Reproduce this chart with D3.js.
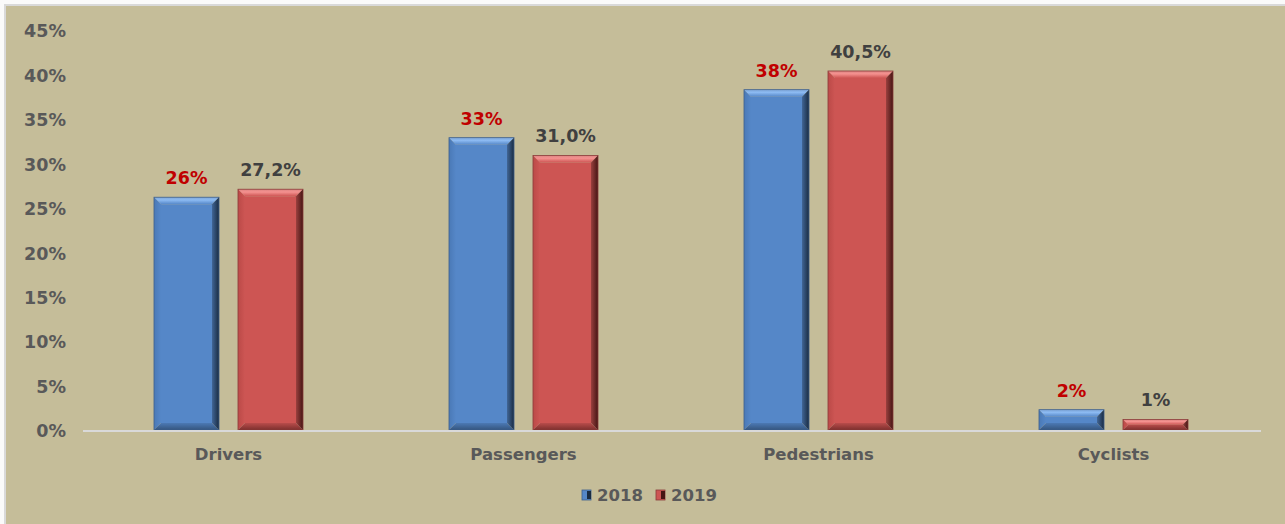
<!DOCTYPE html>
<html>
<head>
<meta charset="utf-8">
<script src="https://cdn.jsdelivr.net/npm/d3@7"></script>
<style>
  html, body { margin: 0; padding: 0; background: #fafafa; }
  svg text { font-family: "DejaVu Sans", Verdana, sans-serif; font-weight: bold; }
</style>
</head>
<body>
<div id="chart"></div>
<script>
// data
var categories = ['Drivers', 'Passengers', 'Pedestrians', 'Cyclists'];
var seriesNames = ['2018', '2019'];
var values2018 = [26.3, 33.0, 38.4, 2.4];
var values2019 = [27.2, 31.0, 40.5, 1.3];
var labels2018 = ['26%', '33%', '38%', '2%'];
var labels2019 = ['27,2%', '31,0%', '40,5%', '1%'];
var yTicks = [0, 5, 10, 15, 20, 25, 30, 35, 40, 45];

var width = 1285, height = 524;

var svg = d3.select('#chart').append('svg')
  .attr('width', width).attr('height', height);

var colors = {
  '2018': { face: '#5587c8', top: '#8cbaf2', left: '#4a79b6', right: '#1a2c42', bottom: '#34557e', line: '#3d5f8c' },
  '2019': { face: '#cd5553', top: '#f59290', left: '#bb4a48', right: '#451514', bottom: '#7c2f2d', line: '#8a3b39' }
};

// gradients for the bevel edges
var defs = svg.append('defs');
seriesNames.forEach(function(s) {
  var c = colors[s];
  var gt = defs.append('linearGradient').attr('id', 'top' + s)
    .attr('x1', 0).attr('y1', 0).attr('x2', 0).attr('y2', 1);
  gt.append('stop').attr('offset', 0).attr('stop-color', d3.color(c.top).darker(0.3));
  gt.append('stop').attr('offset', 0.4).attr('stop-color', c.top);
  gt.append('stop').attr('offset', 1).attr('stop-color', c.face);
  var gr = defs.append('linearGradient').attr('id', 'right' + s)
    .attr('x1', 0).attr('y1', 0).attr('x2', 1).attr('y2', 0);
  gr.append('stop').attr('offset', 0).attr('stop-color', d3.color(c.face).darker(0.8));
  gr.append('stop').attr('offset', 1).attr('stop-color', c.right);
  var gb = defs.append('linearGradient').attr('id', 'bottom' + s)
    .attr('x1', 0).attr('y1', 0).attr('x2', 0).attr('y2', 1);
  gb.append('stop').attr('offset', 0).attr('stop-color', d3.color(c.face).darker(0.3));
  gb.append('stop').attr('offset', 1).attr('stop-color', c.bottom);
  var gl = defs.append('linearGradient').attr('id', 'left' + s)
    .attr('x1', 0).attr('y1', 0).attr('x2', 1).attr('y2', 0);
  gl.append('stop').attr('offset', 0).attr('stop-color', c.left);
  gl.append('stop').attr('offset', 1).attr('stop-color', c.face);
});

// chart area with the light frame on top / left
svg.append('rect')
  .attr('x', 5).attr('y', 5)
  .attr('width', width + 10).attr('height', height + 10)
  .attr('fill', '#c5bd99')
  .attr('stroke', '#d9d9d9').attr('stroke-width', 2);

var x0 = d3.scaleBand().domain(categories).range([81, 1261]);
var x1 = d3.scaleBand().domain(seriesNames).range([0, 149]).paddingInner(0.226);
var y = d3.scaleLinear().domain([0, 45]).range([431, 31]);
var groupOffset = (x0.bandwidth() - 149) / 2;

// y tick labels
svg.append('g').selectAll('text')
  .data(yTicks)
  .enter().append('text')
  .attr('x', 66)
  .attr('y', function(d) { return y(d); })
  .attr('dy', '0.36em')
  .attr('text-anchor', 'end')
  .attr('font-size', '17.5px')
  .attr('fill', '#595959')
  .text(function(d) { return d + '%'; });

// rows for the bars
var rows = [];
categories.forEach(function(c, i) {
  rows.push({ cat: c, s: '2018', v: values2018[i], label: labels2018[i] });
  rows.push({ cat: c, s: '2019', v: values2019[i], label: labels2019[i] });
});

function bevelParts(d) {
  var xa = x0(d.cat) + groupOffset + x1(d.s);
  var xb = xa + x1.bandwidth();
  var ya = y(d.v);
  var yb = y(0) - 1;
  var b = Math.min(7, (yb - ya) / 2);
  return [
    { k: 'face', pts: [[xa + b, ya + b], [xb - b, ya + b], [xb - b, yb - b], [xa + b, yb - b]] },
    { k: 'top', pts: [[xa, ya], [xb, ya], [xb - b, ya + b], [xa + b, ya + b]] },
    { k: 'left', pts: [[xa, ya], [xa + b, ya + b], [xa + b, yb - b], [xa, yb]] },
    { k: 'bottom', pts: [[xa, yb], [xb, yb], [xb - b, yb - b], [xa + b, yb - b]] },
    { k: 'right', pts: [[xb, ya], [xb, yb], [xb - b, yb - b], [xb - b, ya + b]] }
  ];
}

var bars = svg.append('g').selectAll('g')
  .data(rows)
  .enter().append('g');

bars.selectAll('polygon')
  .data(function(d) { return bevelParts(d).map(function(p) { p.s = d.s; return p; }); })
  .enter().append('polygon')
  .attr('points', function(p) { return p.pts.map(function(q) { return q.join(','); }).join(' '); })
  .attr('fill', function(p) { return p.k === 'face' ? colors[p.s].face : 'url(#' + p.k + p.s + ')'; });

bars.append('rect')
  .attr('x', function(d) { return x0(d.cat) + groupOffset + x1(d.s); })
  .attr('y', function(d) { return y(d.v); })
  .attr('width', x1.bandwidth())
  .attr('height', function(d) { return y(0) - 1 - y(d.v); })
  .attr('fill', 'none')
  .attr('stroke', function(d) { return colors[d.s].line; })
  .attr('stroke-width', 0.8);

// data labels
svg.append('g').selectAll('text')
  .data(rows)
  .enter().append('text')
  .attr('x', function(d) { return x0(d.cat) + groupOffset + x1(d.s) + x1.bandwidth() / 2; })
  .attr('y', function(d) { return y(d.v) - 13; })
  .attr('text-anchor', 'middle')
  .attr('font-size', '17.5px')
  .attr('fill', function(d) { return d.s === '2018' ? '#c00000' : '#404040'; })
  .text(function(d) { return d.label; });

// baseline
svg.append('line')
  .attr('x1', 83).attr('x2', 1261)
  .attr('y1', y(0)).attr('y2', y(0))
  .attr('stroke', '#d9d9d9').attr('stroke-width', 2);

// category labels
svg.append('g').selectAll('text')
  .data(categories)
  .enter().append('text')
  .attr('x', function(d) { return x0(d) + x0.bandwidth() / 2; })
  .attr('y', 460)
  .attr('text-anchor', 'middle')
  .attr('font-size', '16.5px')
  .attr('fill', '#595959')
  .text(function(d) { return d; });

// legend
var legend = svg.append('g').selectAll('g')
  .data(seriesNames)
  .enter().append('g')
  .attr('transform', function(d, i) { return 'translate(' + (582 + i * 74) + ',490)'; });

legend.append('rect')
  .attr('width', 9).attr('height', 10)
  .attr('fill', function(d) { return colors[d].face; })
  .attr('stroke', function(d) { return colors[d].line; })
  .attr('stroke-width', 0.8);
legend.append('rect')
  .attr('x', 5).attr('y', 1)
  .attr('width', 4).attr('height', 8)
  .attr('fill', function(d) { return colors[d].right; });

legend.append('text')
  .attr('x', 15).attr('y', 11)
  .attr('font-size', '16.5px')
  .attr('fill', '#595959')
  .text(function(d) { return d; });
</script>
</body>
</html>
